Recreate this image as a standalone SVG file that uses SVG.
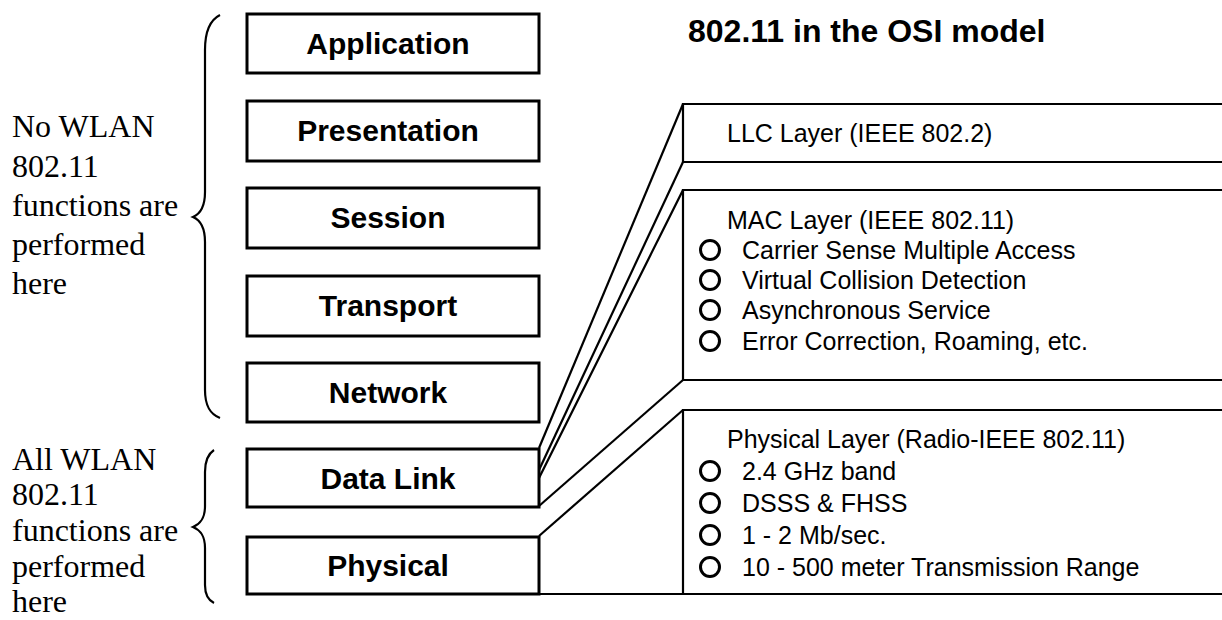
<svg xmlns="http://www.w3.org/2000/svg" width="1222" height="620" viewBox="0 0 1222 620">
<style>
.box{fill:#fff;stroke:#000;stroke-width:3}
.lbl{font-family:"Liberation Sans",Arial,sans-serif;font-weight:bold;font-size:30px;fill:#000;text-anchor:middle}
.side{font-family:"Liberation Serif","Times New Roman",serif;font-size:32px;fill:#000}
.title{font-family:"Liberation Sans",Arial,sans-serif;font-weight:bold;font-size:32px;fill:#000}
.ptxt{font-family:"Liberation Sans",Arial,sans-serif;font-size:25px;fill:#000}
.ln{fill:none;stroke:#000;stroke-width:2.2}
.brace{fill:none;stroke:#000;stroke-width:2.2}
.dot{fill:none;stroke:#000;stroke-width:3}
</style>
<rect width="1222" height="620" fill="#fff"/>

<g id="side-no">
<text class="side" x="12" y="137">No WLAN</text>
<text class="side" x="12" y="177">802.11</text>
<text class="side" x="12" y="216">functions are</text>
<text class="side" x="12" y="255">performed</text>
<text class="side" x="12" y="294">here</text>
<path class="brace" d="M220,15 C210,20 205,32 205,50 L205,192 C205,208 200,214 193,217 C200,220 205,226 205,242 L205,390 C205,406 210,414 220,418"/>
</g>
<g id="side-all">
<text class="side" x="12" y="470">All WLAN</text>
<text class="side" x="12" y="505">802.11</text>
<text class="side" x="12" y="541">functions are</text>
<text class="side" x="12" y="577">performed</text>
<text class="side" x="12" y="612">here</text>
<path class="brace" d="M214,450 C208,454 205,462 205,472 L205,506 C205,519 200,524 193,527 C200,530 205,535 205,548 L205,585 C205,595 208,600 214,603"/>
</g>

<g id="application"><rect class="box" x="247" y="14" width="292" height="59"/><text class="lbl" x="388" y="54">Application</text></g>
<g id="presentation"><rect class="box" x="247" y="101" width="292" height="60"/><text class="lbl" x="388" y="141">Presentation</text></g>
<g id="session"><rect class="box" x="247" y="188" width="292" height="60"/><text class="lbl" x="388" y="228">Session</text></g>
<g id="transport"><rect class="box" x="247" y="276" width="292" height="60"/><text class="lbl" x="388" y="316">Transport</text></g>
<g id="network"><rect class="box" x="247" y="363" width="292" height="59"/><text class="lbl" x="388" y="403">Network</text></g>
<g id="datalink"><rect class="box" x="247" y="449" width="292" height="58"/><text class="lbl" x="388" y="489">Data Link</text></g>
<g id="physical"><rect class="box" x="247" y="537" width="292" height="57"/><text class="lbl" x="388" y="576">Physical</text></g>

<g id="title"><text class="title" x="688" y="42">802.11 in the OSI model</text></g>

<g id="llc">
<path class="ln" d="M1222,104 L683,104 L683,162 L1222,162"/>
<text class="ptxt" x="727" y="142">LLC Layer (IEEE 802.2)</text>
</g>
<g id="mac">
<path class="ln" d="M1222,190 L683,190 L683,380 L1222,380"/>
<text class="ptxt" x="727" y="229">MAC Layer (IEEE 802.11)</text>
<circle class="dot" cx="710" cy="250" r="9.5"/><text class="ptxt" x="742" y="259">Carrier Sense Multiple Access</text>
<circle class="dot" cx="710" cy="280" r="9.5"/><text class="ptxt" x="742" y="289">Virtual Collision Detection</text>
<circle class="dot" cx="710" cy="310" r="9.5"/><text class="ptxt" x="742" y="319">Asynchronous Service</text>
<circle class="dot" cx="710" cy="341" r="9.5"/><text class="ptxt" x="742" y="350">Error Correction, Roaming, etc.</text>
</g>
<g id="phy">
<path class="ln" d="M1222,410 L683,410 L683,594 L1222,594"/>
<text class="ptxt" x="727" y="448">Physical Layer (Radio-IEEE 802.11)</text>
<circle class="dot" cx="710" cy="471" r="9.5"/><text class="ptxt" x="742" y="480">2.4 GHz band</text>
<circle class="dot" cx="710" cy="503" r="9.5"/><text class="ptxt" x="742" y="512">DSSS &amp; FHSS</text>
<circle class="dot" cx="710" cy="535" r="9.5"/><text class="ptxt" x="742" y="544">1 - 2 Mb/sec.</text>
<circle class="dot" cx="710" cy="567" r="9.5"/><text class="ptxt" x="742" y="576">10 - 500 meter Transmission Range</text>
</g>

<g id="connectors">
<path class="ln" d="M539,448 L683,104"/>
<path class="ln" d="M539,470 L683,162"/>
<path class="ln" d="M539,478 L683,190"/>
<path class="ln" d="M539,506 L683,380"/>
<path class="ln" d="M539,536 L683,410"/>
<path class="ln" d="M539,594 L683,594"/>
</g>
</svg>
